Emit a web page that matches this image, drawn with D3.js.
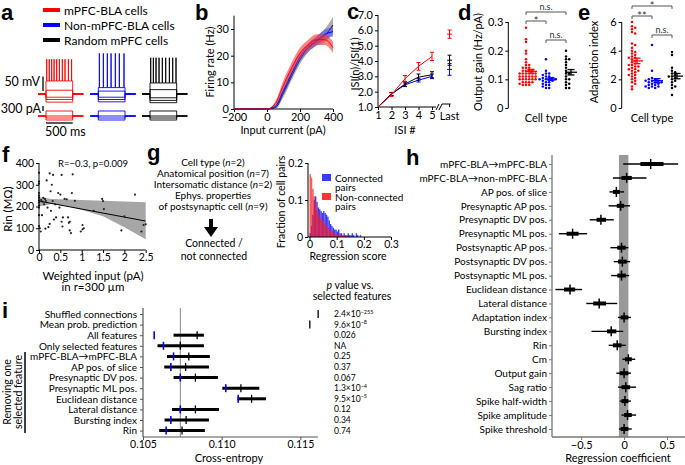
<!DOCTYPE html>
<html><head><meta charset="utf-8">
<script src="https://d3js.org/d3.v7.min.js"></script>
<style>body{margin:0;background:#fff}svg{display:block}</style>
</head><body><svg id="fig" width="685" height="465"></svg>
<script>
// ---------------- DATA ----------------
// a
const cellNames = ["mPFC-BLA cells","Non-mPFC-BLA cells","Random mPFC cells"];
const cellColors = ["#ff0000","#0000ff","#000000"];
const restMv = -70;
const spikeTimes = [[12,60,105,150,200,250,305,355,418,478],[19,94,168,238,318,393,480],[12,62,112,168,230,293,362,424,486]];
const hyperMv = [[-98,-89,-81],[-97,-89,-81],[-100,-92,-83]];
const subMv = [-57,-60,-55];
const spikeBaseMv = [-25,-48,-32];
const spikePeakMv = [50,70,55];
const currentSteps = [-240,-120,0,300];
// b
const inputCurrent = [-200,-150,-100,-50,0,50,100,150,200,250,300,350,400];
const rateRed   = [0,0,0,0,0,2,9,15.5,21,24,26,26,23];
const rateBlue  = [0,0,0,0,0,1,7,13.5,19.5,23,25.5,28,29];
const rateBlack = [0,0,0,0,0,0.5,6,12.5,18.5,23,25.5,27.5,31.5];
const semRed   = [0,0,0,0,0,0.8,1.8,2,2,2,2,2,2];
const semBlue  = [0,0,0,0,0,0.6,1.5,1.6,1.6,1.6,1.6,1.8,1.8];
const semBlack = [0,0,0,0,0,0.6,1.5,1.6,1.6,1.6,1.8,2.5,3];
// c
const isiIndex = [1,2,3,4,5];
const isiRed = [1,1.8,2.85,3.65,4.3], isiRedErr = [0,0.12,0.2,0.25,0.27];
const isiBlue = [1,1.85,2.45,2.75,3.0], isiBlueErr = [0,0.1,0.12,0.12,0.15];
const isiBlack = [1,1.85,2.5,2.95,3.1], isiBlackErr = [0,0.1,0.15,0.2,0.2];
const isiLast = [5.75,3.45,4.05], isiLastErr = [0.27,0.38,0.33];
// d
const gainRed = [0.28,0.24,0.23,0.2,0.19,0.17,0.16,0.15,0.15,0.14,0.14,0.14,0.13,0.13,0.13,0.13,0.12,0.12,0.12,0.12,0.12,0.12,0.11,0.11,0.11,0.11,0.11,0.11,0.1,0.1,0.1,0.1,0.1,0.1,0.09,0.09,0.09,0.09,0.085,0.08,0.08,0.08];
const gainBlue = [0.17,0.13,0.12,0.12,0.115,0.11,0.11,0.105,0.105,0.1,0.1,0.1,0.1,0.095,0.095,0.09,0.09,0.085,0.08,0.08,0.075,0.07,0.07];
const gainBlack = [0.2,0.18,0.17,0.17,0.16,0.15,0.14,0.13,0.12,0.12,0.11,0.1,0.1,0.09,0.085,0.08,0.07,0.07];
// e
const adaptRed = [6.0,5.7,5.6,5.5,5.3,5.2,4.5,4.4,4.2,4.0,3.9,3.8,3.7,3.6,3.5,3.5,3.4,3.3,3.2,3.1,3.0,3.0,2.9,2.9,2.8,2.7,2.7,2.6,2.6,2.5,2.4,2.3,2.3,2.2,2.1,2.0,1.9,1.8,1.7,1.5,1.3];
const adaptBlue = [4.4,2.6,2.1,2.0,2.0,1.9,1.9,1.9,1.8,1.8,1.8,1.7,1.7,1.6,1.6,1.5,1.5,1.5,1.4,1.4];
const adaptBlack = [3.9,3.7,2.8,2.6,2.5,2.4,2.3,2.2,2.2,2.1,2.0,1.9,1.8,1.6,1.5,1.4,0.9];
// f
const weightedInput = [0,0,0,0,0,0,0,0,0,0,0,0,
  0.02,0.04,0.05,0.07,0.09,0.1,0.12,0.14,0.16,0.18,0.2,0.22,
  0.25,0.27,0.28,0.3,0.32,0.33,0.35,0.38,0.4,0.45,0.48,0.5,
  0.53,0.53,0.55,0.56,0.6,0.65,0.68,0.7,0.72,0.72,0.75,0.77,
  0.79,0.84,0.98,1.02,1.02,1.05,1.28,1.48,1.5,1.52,1.93,2.0,
  2.25,2.4,2.45,2.5,0.15,0.25];
const rinValues = [355,315,305,262,250,240,228,218,205,195,160,110,
  100,85,230,160,222,240,210,235,225,320,195,105,
  352,270,180,300,225,345,140,210,150,262,195,255,
  345,130,108,150,235,233,150,125,90,130,78,262,
  348,226,85,115,95,100,180,235,225,188,90,155,
  255,85,115,118,98,120];
const fitX = [0,2.5], fitY = [225,133];
const bandX = [0,0.3,0.7,1.0,1.5,2.0,2.5];
const bandLo = [200,212,200,185,155,105,50];
const bandHi = [243,234,232,230,227,223,220];
// g
const gTextLines = ["Cell type (n=2)","Anatomical position (n=7)","Intersomatic distance (n=2)","Ephys. properties","of postsynaptic cell (n=9)"];
const histBinWidth = 0.005;
const histConnected = [0.01,0.03,0.06,0.1,0.11,0.095,0.08,0.075,0.07,0.065,0.07,0.065,0.06,0.055,0.045,0.035,0.03,0.025,0.02,0.02,0.015,0.02,0.01,0.01,0.005,0.01,0.005,0.005,0.01,0.005,0.005,0.01,0.005,0,0.01,0.005,0,0.005];
const histNonConnected = [0.17,0.16,0.13,0.11,0.09,0.075,0.065,0.055,0.05,0.045,0.04,0.035,0.03,0.025,0.02,0.018,0.015,0.012,0.01,0.008,0.006,0.005,0.004,0.003,0.002,0.002,0.001,0.001,0.001,0.001];
// h
const hLabels = ["mPFC-BLA\u2192mPFC-BLA","mPFC-BLA\u2192non-mPFC-BLA","AP pos. of slice","Presynaptic AP pos.","Presynaptic DV pos.","Presynaptic ML pos.","Postsynaptic AP pos.","Postsynaptic DV pos.","Postsynaptic ML pos.","Euclidean distance","Lateral distance","Adaptation index","Bursting index","Rin","Cm","Output gain","Sag ratio","Spike half-width","Spike amplitude","Spike threshold"];
const hMedian = [0.31,0.03,-0.09,-0.04,-0.27,-0.60,-0.03,-0.02,-0.03,-0.63,-0.29,0.0,-0.15,-0.08,0.05,0.0,0.02,0.01,0.04,0.0];
const hLo95 = [-0.01,-0.13,-0.17,-0.18,-0.40,-0.76,-0.16,-0.12,-0.15,-0.80,-0.44,-0.07,-0.38,-0.18,-0.02,-0.09,-0.07,-0.05,-0.03,-0.06];
const hHi95 = [0.63,0.26,0.0,0.07,-0.12,-0.43,0.05,0.07,0.06,-0.49,-0.08,0.08,-0.01,0.02,0.13,0.08,0.14,0.08,0.14,0.09];
const hLo50 = [0.19,-0.03,-0.13,-0.085,-0.32,-0.67,-0.08,-0.07,-0.08,-0.70,-0.36,-0.04,-0.2,-0.13,0.01,-0.05,-0.03,-0.03,0.0,-0.04];
const hHi50 = [0.46,0.09,-0.05,0.0,-0.21,-0.53,0.02,0.03,0.02,-0.57,-0.21,0.05,-0.09,-0.03,0.09,0.05,0.07,0.05,0.09,0.05];
const hNullBand = [-0.06,0.05];
// i
const iLabels = ["Shuffled connections","Mean prob. prediction","All features","Only selected features","mPFC-BLA\u2192mPFC-BLA","AP pos. of slice","Presynaptic DV pos.","Presynaptic ML pos.","Euclidean distance","Lateral distance","Bursting index","Rin"];
const iMean = [0.11613,0.1156,0.10844,0.10737,0.10791,0.10771,0.10833,0.11122,0.1119,0.10833,0.10774,0.10748];
const iLo = [null,null,0.10694,0.10592,0.10652,0.10635,0.10694,0.11004,0.111,0.10684,0.10637,0.10603];
const iHi = [null,null,0.10887,0.10887,0.10925,0.10919,0.10976,0.11239,0.11282,0.10983,0.10919,0.10893];
const iSelected = [null,null,0.10571,0.1063,0.10694,0.10677,0.10737,0.11026,0.11105,0.10737,0.10677,0.10647];
const iReference = 0.10737;
const iPvalues = ["2.4\u00d710^\u2212255","9.6\u00d710^\u22128","0.026","NA","0.25","0.37","0.067","1.3\u00d710^\u22124","9.5\u00d710^\u22125","0.12","0.34","0.74"];

// ---------------- DRAWING ----------------
const FONT = "Lato, 'Open Sans', sans-serif";
const svg = d3.select("#fig").attr("font-family", FONT);
function T(x,y,s,o={}){
  const t = svg.append("text").attr("x",x).attr("y",y).text(s)
    .attr("font-size",o.size||11).attr("text-anchor",o.anchor||"start").attr("fill",o.fill||"#000");
  if(o.weight) t.attr("font-weight",o.weight);
  if(o.family) t.attr("font-family",o.family);
  if(o.rotate!==undefined) t.attr("transform",`rotate(${o.rotate},${x},${y})`);
  return t;
}
function L(x1,y1,x2,y2,c="#000",w=1){
  return svg.append("line").attr("x1",x1).attr("y1",y1).attr("x2",x2).attr("y2",y2).attr("stroke",c).attr("stroke-width",w);
}
function styleAxis(g,fs,col){
  g.attr("font-family",FONT).attr("font-size",fs);
  g.selectAll(".domain").remove();
  g.selectAll("line").attr("stroke",col||"#000");
  g.selectAll("text").attr("fill","#000");
  return g;
}
function label(x,y,s){ T(x,y,s,{size:22,weight:"bold",family:"'Liberation Sans', Arial, sans-serif"}); }

// ---- panel a ----
label(1,20,"a");
const legY=[10,25,40];
cellNames.forEach((n,i)=>{
  L(43,legY[i],60,legY[i],cellColors[i],4);
  T(64,legY[i]+4.5,n,{size:12});
});
const tScale = d3.scaleLinear().domain([0,500]).range([0,26.7]);
const vScale = d3.scaleLinear().domain([-70,-20]).range([94,79.5]);
const iScale = d3.scaleLinear().domain([0,300]).range([116,111]);
const cellX = [46,98.3,150];
const lineGen = d3.line();
cellNames.forEach((n,ci)=>{
  const X=t=>cellX[ci]+tScale(t), col=cellColors[ci];
  const sweeps=[...hyperMv[ci],subMv[ci]].map(v=>[[-150,restMv],[0,restMv],[0,v],[500,v],[500,restMv],[700,restMv]]);
  const sp=[[-150,restMv],[0,restMv],[0,spikeBaseMv[ci]]];
  spikeTimes[ci].forEach(t=>{ sp.push([t,spikeBaseMv[ci]],[t+1,spikePeakMv[ci]],[t+2.5,spikeBaseMv[ci]]); });
  sp.push([500,spikeBaseMv[ci]],[500,restMv],[700,restMv]);
  sweeps.push(sp);
  sweeps.forEach(s=>svg.append("path").attr("d",lineGen(s.map(p=>[X(p[0]),vScale(p[1])]))).attr("fill","none").attr("stroke",col).attr("stroke-width",0.9));
  currentSteps.forEach(c=>{
    const s=[[-150,0],[0,0],[0,c],[500,c],[500,0],[700,0]];
    svg.append("path").attr("d",lineGen(s.map(p=>[X(p[0]),iScale(p[1])]))).attr("fill","none").attr("stroke",col).attr("stroke-width",0.9);
  });
});
L(43,vScale(-60),43,vScale(-10),"#000",1.3);
T(40,86,"50 mV",{size:12.5,anchor:"end"});
L(43,iScale(300),43,iScale(600),"#000",1.3);
T(41,113,"300 pA",{size:12.5,anchor:"end"});
L(cellX[0]+tScale(0),123,cellX[0]+tScale(500),123,"#000",1.3);
T(45,136,"500 ms",{size:12.5});

// ---- panel b ----
label(195,20,"b");
const bx=d3.scaleLinear().domain([-200,400]).range([234,333]);
const by=d3.scaleLinear().domain([0,35]).range([109,15.7]);
L(234,15.7,234,109); L(234,109,333,109);
styleAxis(svg.append("g").attr("transform","translate(234,0)").call(d3.axisLeft(by).tickValues([0,10,20,30]).tickSize(3).tickPadding(2)),11);
styleAxis(svg.append("g").attr("transform","translate(0,109)").call(d3.axisBottom(bx).tickValues([-200,0,200,400]).tickSize(3).tickPadding(1)),11);
T(214,62,"Firing rate (Hz)",{size:11,anchor:"middle",rotate:-90});
T(283,134,"Input current (pA)",{size:11,anchor:"middle"});
const bSeries=[[rateBlack,semBlack,"#000","#777"],[rateBlue,semBlue,"#0000ff","#4d4dff"],[rateRed,semRed,"#ff0000","#ff3333"]];
bSeries.forEach(([r,e,lc,fc])=>{
  const d=inputCurrent.map((x,i)=>({x,y:r[i],e:e[i]}));
  svg.append("path").attr("d",d3.area().x(p=>bx(p.x)).y0(p=>by(p.y-p.e)).y1(p=>by(p.y+p.e)).curve(d3.curveMonotoneX)(d)).attr("fill",fc).attr("opacity",0.6);
  svg.append("path").attr("d",d3.line().x(p=>bx(p.x)).y(p=>by(p.y)).curve(d3.curveMonotoneX)(d)).attr("fill","none").attr("stroke",lc).attr("stroke-width",1);
});

// ---- panel c ----
label(347,19,"c");
const cx=d3.scaleLinear().domain([1,5]).range([378,432]);
const cy=d3.scaleLinear().domain([1,7]).range([107,15]);
const lastPos=6.3;
L(378,15,378,107); L(378,107,436,107);
L(436,110,439,104); L(439,110,442,104);
L(442,104,cx(lastPos)+1,104); L(cx(lastPos),104,cx(lastPos),107);
styleAxis(svg.append("g").attr("transform","translate(378,0)").call(d3.axisLeft(cy).tickValues([1,2,3,4,5,6,7]).tickSize(3).tickPadding(2)),11);
styleAxis(svg.append("g").attr("transform","translate(0,107)").call(d3.axisBottom(cx).tickValues(isiIndex).tickFormat(d3.format("d")).tickSize(3).tickPadding(1)),11);
T(cx(lastPos),120,"Last",{size:11,anchor:"middle"});
T(359,64,"ISI(n)/ISI(1)",{size:11,anchor:"middle",rotate:-90});
T(405,134,"ISI #",{size:11,anchor:"middle"});
const cSeries=[[isiBlue,isiBlueErr,"#0000ff",1],[isiBlack,isiBlackErr,"#000",2],[isiRed,isiRedErr,"#ff0000",0]];
cSeries.forEach(([v,e,col,li])=>{
  svg.append("path").attr("d",d3.line()(isiIndex.map((x,i)=>[cx(x),cy(v[i])]))).attr("fill","none").attr("stroke",col).attr("stroke-width",1);
  isiIndex.forEach((x,i)=>{ if(e[i]>0){ L(cx(x),cy(v[i]-e[i]),cx(x),cy(v[i]+e[i]),col,1); L(cx(x)-2,cy(v[i]-e[i]),cx(x)+2,cy(v[i]-e[i]),col,1); L(cx(x)-2,cy(v[i]+e[i]),cx(x)+2,cy(v[i]+e[i]),col,1);} });
  const xl=cx(lastPos);
  L(xl,cy(isiLast[li]-isiLastErr[li]),xl,cy(isiLast[li]+isiLastErr[li]),col,1);
  L(xl-2,cy(isiLast[li]-isiLastErr[li]),xl+2,cy(isiLast[li]-isiLastErr[li]),col,1);
  L(xl-2,cy(isiLast[li]+isiLastErr[li]),xl+2,cy(isiLast[li]+isiLastErr[li]),col,1);
  L(xl-2.5,cy(isiLast[li]),xl+2.5,cy(isiLast[li]),col,1);
});

// ---- panels d, e ----
function swarm(vals,yS,cxp,r){
  const pts=vals.map(v=>({v,y:yS(v)})).sort((a,b)=>a.y-b.y);
  const placed=[];
  pts.forEach(p=>{
    for(let k=0;k<60;k++){
      const off=(k%2?1:-1)*Math.ceil(k/2)*1.6, x=cxp+off;
      if(placed.every(q=>Math.hypot(q.x-x,q.y-p.y)>=2*r+0.3)){p.x=x;break;}
    }
    placed.push(p);
  });
  return pts;
}
function dotPanel(axisX,yS,ticks,tickFmt,groups,cols,colX,brackets){
  L(axisX,yS.range()[1],axisX,yS.range()[0]);
  styleAxis(svg.append("g").attr("transform",`translate(${axisX},0)`).call(d3.axisLeft(yS).tickValues(ticks).tickFormat(tickFmt).tickSize(3).tickPadding(2)),11);
  groups.forEach((vals,gi)=>{
    swarm(vals,yS,colX[gi],1.25).forEach(p=>svg.append("circle").attr("cx",p.x).attr("cy",p.y).attr("r",1.25).attr("fill",cols[gi]));
    const m=d3.mean(vals), se=d3.deviation(vals)/Math.sqrt(vals.length), mx=colX[gi]+5;
    L(mx-6,yS(m),mx+6,yS(m),cols[gi],1.3);
    L(mx,yS(m-se),mx,yS(m+se),cols[gi],1.3);
    L(mx-3.5,yS(m-se),mx+3.5,yS(m-se),cols[gi],1.3);
    L(mx-3.5,yS(m+se),mx+3.5,yS(m+se),cols[gi],1.3);
  });
  brackets.forEach(([a,b,y,s])=>{
    svg.append("path").attr("d",`M${colX[a]},${y+3}V${y}H${colX[b]}V${y+3}`).attr("fill","none").attr("stroke","#555").attr("stroke-width",1);
    if(s==="n.s.") T((colX[a]+colX[b])/2,y-2.5,s,{size:9,anchor:"middle",fill:"#333"});
    else T((colX[a]+colX[b])/2,y+3.5,s,{size:11,anchor:"middle",fill:"#333"});
  });
}
label(458,20,"d");
const dy=d3.scaleLinear().domain([0,0.3]).range([108,22]);
dotPanel(508.3,dy,[0,0.1,0.2,0.3],d3.format(".1~f"),[gainRed,gainBlue,gainBlack],cellColors,[526,546,566],[[0,2,12,"n.s."],[0,1,21,"*"],[1,2,40,"n.s."]]);
T(482,62,"Output gain (Hz/pA)",{size:11,anchor:"middle",rotate:-90});
T(546,122,"Cell type",{size:11,anchor:"middle"});
label(578,20,"e");
const ey=d3.scaleLinear().domain([0,6]).range([108,22]);
dotPanel(621.7,ey,[0,2,4,6],d3.format("d"),[adaptRed,adaptBlue,adaptBlack],cellColors,[632,652,672],[[0,2,6,"*"],[0,1,16,"**"],[1,2,35,"n.s."]]);
T(598,62,"Adaptation index",{size:11,anchor:"middle",rotate:-90});
T(652,122,"Cell type",{size:11,anchor:"middle"});

// ---- panel f ----
label(2,162,"f");
const fx=d3.scaleLinear().domain([0,2.5]).range([39,145.7]);
const fy=d3.scaleLinear().domain([0,400]).range([250,163]);
svg.append("path").attr("d",d3.area().x(d=>fx(d.x)).y0(d=>fy(d.lo)).y1(d=>fy(d.hi))(bandX.map((x,i)=>({x,lo:bandLo[i],hi:bandHi[i]})))).attr("fill","#a6a6a6");
svg.append("path").attr("d",d3.line()(fitX.map((x,i)=>[fx(x),fy(fitY[i])]))).attr("stroke","#000").attr("stroke-width",1);
weightedInput.forEach((x,i)=>svg.append("circle").attr("cx",fx(x)).attr("cy",fy(rinValues[i])).attr("r",1.1).attr("fill","#222"));
L(39,163,39,250); L(39,250,145.7,250);
styleAxis(svg.append("g").attr("transform","translate(39,0)").call(d3.axisLeft(fy).tickValues([0,100,200,300,400]).tickSize(3).tickPadding(2)),10.5);
styleAxis(svg.append("g").attr("transform","translate(0,250)").call(d3.axisBottom(fx).tickValues([0,0.5,1,1.5,2,2.5]).tickFormat(d3.format("~g")).tickSize(3).tickPadding(1)),10.5);
T(93,167,"R=\u22120.3, p=0.009",{size:9.5,anchor:"middle"});
T(12,209,"Rin (M\u03a9)",{size:11.5,anchor:"middle",rotate:-90});
T(93,280,"Weighted input (pA)",{size:11.5,anchor:"middle"});
T(93,291,"in r=300 \u00b5m",{size:11.5,anchor:"middle"});

// ---- panel g ----
label(147,160,"g");
const gLineY=[166,177,188,199,210];
gTextLines.forEach((s,i)=>{
  const t=T(213,gLineY[i],"",{size:10,anchor:"middle"});
  const m=s.match(/^(.*\()n(=.*)$/);
  if(m){ t.append("tspan").text(m[1]); t.append("tspan").attr("font-style","italic").text("n"); t.append("tspan").text(m[2]); }
  else t.text(s);
});
L(211,219,211,228,"#000",4);
svg.append("path").attr("d","M204,227L218,227L211,237Z").attr("fill","#000");
T(214,247,"Connected /",{size:10.5,anchor:"middle"});
T(214,260,"not connected",{size:10.5,anchor:"middle"});
const gx=d3.scaleLinear().domain([0,0.3]).range([309.5,391]);
const gy=d3.scaleLinear().domain([0,0.2]).range([237,163]);
const bw=gx(histBinWidth)-gx(0);
histConnected.forEach((v,i)=>svg.append("rect").attr("x",gx(i*histBinWidth)).attr("y",gy(v)).attr("width",bw+0.05).attr("height",gy(0)-gy(v)).attr("fill","#3a3aff"));
histNonConnected.forEach((v,i)=>svg.append("rect").attr("x",gx(i*histBinWidth)).attr("y",gy(v)).attr("width",bw+0.05).attr("height",gy(0)-gy(v)).attr("fill","#ff1a1a").attr("opacity",0.72));
L(308,163,308,237); L(308,237,391,237);
styleAxis(svg.append("g").attr("transform","translate(308,0)").call(d3.axisLeft(gy).tickValues([0,0.1,0.2]).tickFormat(d3.format("~g")).tickSize(3).tickPadding(2)),10.5);
styleAxis(svg.append("g").attr("transform","translate(0,237)").call(d3.axisBottom(gx).tickValues([0,0.1,0.2,0.3]).tickFormat(d3.format("~g")).tickSize(3).tickPadding(1)),10.5);
T(285,202,"Fraction of cell pairs",{size:10.5,anchor:"middle",rotate:-90});
T(348,260,"Regression score",{size:10.5,anchor:"middle"});
svg.append("rect").attr("x",322).attr("y",174).attr("width",9).attr("height",7).attr("fill","#3a3aff");
svg.append("rect").attr("x",322).attr("y",193).attr("width",9).attr("height",7).attr("fill","#ff3333");
T(335,181.5,"Connected",{size:10}); T(335,190.5,"pairs",{size:10});
T(335,200.5,"Non-connected",{size:10}); T(335,209.5,"pairs",{size:10});

// ---- panel h ----
label(406,165,"h");
const hx=d3.scaleLinear().domain([-0.84,0.71]).range([552,685]);
const hy=d3.scalePoint().domain(hLabels).range([164,429]);
svg.append("rect").attr("x",hx(hNullBand[0])).attr("y",155).attr("width",hx(hNullBand[1])-hx(hNullBand[0])).attr("height",437-155).attr("fill","#999");
L(552,155,552,437,"#777",1.3); L(552,437,685,437,"#777",1.3);
styleAxis(svg.append("g").attr("transform","translate(552,0)").call(d3.axisLeft(hy).tickSize(3).tickPadding(2)),10,"#777");
styleAxis(svg.append("g").attr("transform","translate(0,437)").call(d3.axisBottom(hx).tickValues([-0.5,0,0.5]).tickFormat(d3.format("~g")).tickSize(3).tickPadding(1)),11,"#777");
hLabels.forEach((lab,i)=>{
  const y=hy(lab);
  L(hx(hLo95[i]),y,hx(hHi95[i]),y,"#000",1.4);
  L(hx(hLo50[i]),y,hx(hHi50[i]),y,"#000",4);
  L(hx(hMedian[i]),y-5,hx(hMedian[i]),y+5,"#000",1.5);
});
T(618,462,"Regression coefficient",{size:11,anchor:"middle"});

// ---- panel i ----
label(2,318,"i");
const ix=d3.scaleLinear().domain([0.105,0.11612]).range([143,318]);
const iy=d3.scalePoint().domain(iLabels).range([314,430.6]);
L(ix(iReference),308,ix(iReference),437,"#888",1);
L(143,308,143,437,"#555",1.2); L(143,437,318,437,"#555",1.2);
styleAxis(svg.append("g").attr("transform","translate(143,0)").call(d3.axisLeft(iy).tickSize(3).tickPadding(3)),10,"#555");
styleAxis(svg.append("g").attr("transform","translate(0,437)").call(d3.axisBottom(ix).tickValues([0.105,0.11,0.115]).tickFormat(d3.format(".3f")).tickSize(3).tickPadding(1)),10.5,"#555");
iLabels.forEach((lab,i)=>{
  const y=iy(lab);
  if(iLo[i]!==null) L(ix(iLo[i]),y,ix(iHi[i]),y,"#000",3);
  L(ix(iMean[i]),y-4,ix(iMean[i]),y+4,"#000",1.3);
  if(iSelected[i]!==null) L(ix(iSelected[i]),y-4,ix(iSelected[i]),y+4,"#0000ff",1.6);
  const p=iPvalues[i].split("^");
  const t=T(334,y+3,p[0],{size:8.5});
  if(p[1]) t.append("tspan").attr("dy",-3.5).attr("font-size",5.5).text(p[1]);
});
T(229,462,"Cross-entropy",{size:11,anchor:"middle"});
const ph=T(350,289,"",{size:10.5,anchor:"middle"});
ph.append("tspan").attr("font-style","italic").text("p"); ph.append("tspan").text(" value vs.");
T(352,300,"selected features",{size:10.5,anchor:"middle"});
L(25,352,25,433,"#000",1.5);
T(11,392,"Removing one",{size:10.5,anchor:"middle",rotate:-90});
T(22,392,"selected feature",{size:10.5,anchor:"middle",rotate:-90});
</script></body></html>
